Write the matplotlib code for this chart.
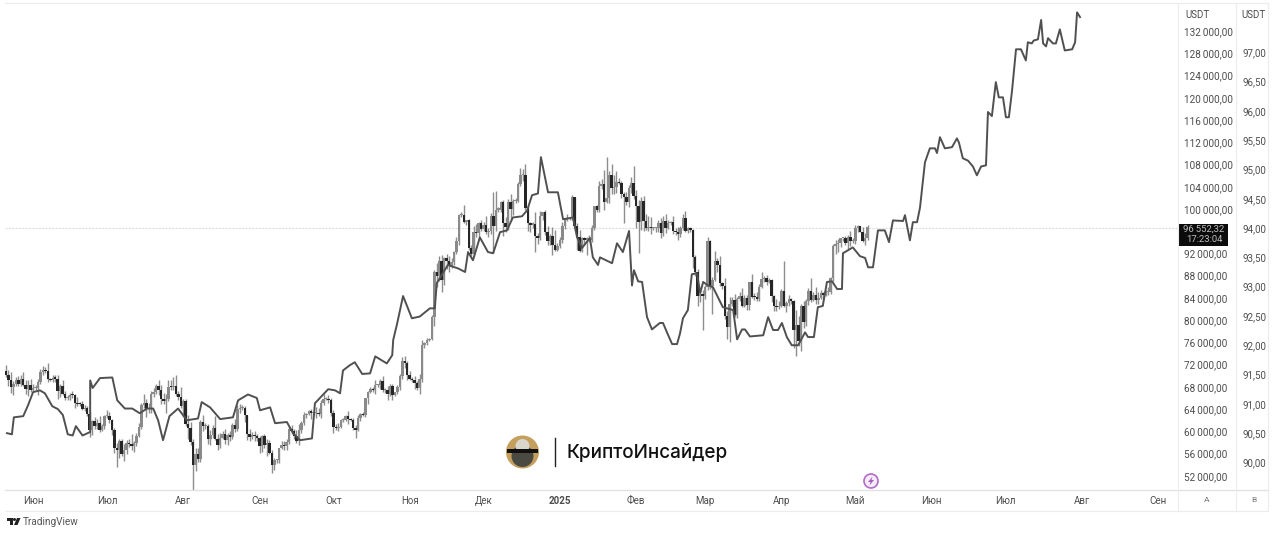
"""
plot.py - TradingView style chart: BTC daily candles plus an overlay line on its own scale.
"""

import matplotlib
matplotlib.use("Agg")
import matplotlib.pyplot as plt
from matplotlib.patches import Circle, Polygon, Rectangle

# BTC closes in thousands USDT, one per day, first one is 21 May 2024 (day -11)
closes = [
    70.1, 69.2, 67.9, 68.5, 69.3, 68.5, 69.4, 68.4, 67.6, 68.4, 67.5,
    67.8, 67.8, 68.8, 70.6, 71.1, 70.8, 69.4, 69.3, 69.6, 69.5,
    67.3, 68.2, 66.8, 66.0, 66.2, 66.6, 66.5, 65.2, 65.0, 64.9,
    64.1, 64.3, 63.2, 60.3, 61.8, 60.9, 61.6, 60.3, 60.9, 62.7,
    62.8, 62.0, 60.2, 57.0, 56.7, 58.2, 55.9, 56.7, 58.0, 57.7,
    57.3, 57.9, 59.2, 60.8, 64.7, 65.1, 64.1, 64.0, 66.7, 67.1,
    68.2, 67.5, 65.9, 65.4, 65.8, 68.0, 67.9, 68.2, 66.8, 66.2, 64.6,
    65.4, 61.4, 60.7, 58.1, 53.9, 56.0, 55.0, 61.7, 60.9, 60.9,
    58.7, 59.3, 60.6, 58.7, 57.5, 58.9, 59.5, 58.5, 59.4, 59.0,
    61.2, 60.4, 64.1, 64.2, 64.2, 62.9, 59.5, 59.0, 59.4, 59.1, 58.9,
    57.3, 59.1, 57.5, 58.0, 56.2, 54.0, 54.9, 54.9, 57.0, 57.6,
    57.3, 58.1, 60.5, 60.0, 59.2, 58.2, 60.3, 61.6, 62.9, 63.2,
    63.6, 63.3, 63.3, 63.3, 63.1, 65.2, 65.8, 65.9, 65.6, 63.3,
    60.8, 60.6, 60.8, 62.1, 62.1, 62.8, 62.2, 62.1, 60.6, 60.3,
    62.4, 63.2, 62.9, 66.0, 67.0, 67.6, 67.4, 68.4, 68.4, 69.0,
    67.4, 67.4, 66.7, 68.2, 66.6, 67.0, 68.0, 69.9, 72.7, 72.3, 70.2,
    69.5, 69.3, 68.7, 67.8, 69.4, 75.6, 75.9, 76.5, 76.7, 80.5,
    88.7, 88.0, 90.6, 87.3, 91.1, 90.6, 89.8, 90.5, 92.3, 94.3,
    98.9, 98.9, 97.7, 98.0, 93.0, 91.9, 95.9, 95.6, 97.5, 96.4,
    97.2, 95.9, 96.0, 98.8, 97.0, 99.9, 99.9, 101.2, 97.4, 96.7,
    101.2, 100.0, 101.4, 101.4, 104.5, 106.1, 106.1, 100.2, 97.5, 97.2,
    97.3, 95.1, 94.7, 98.7, 99.4, 95.8, 94.2, 95.2, 93.5, 92.6, 93.4,
    94.4, 96.9, 98.1, 98.2, 98.3, 102.1, 96.9, 95.0, 92.5, 94.7,
    94.5, 94.5, 94.5, 96.5, 100.5, 99.8, 104.1, 104.4, 101.2, 102.0,
    106.1, 103.7, 103.9, 104.8, 104.7, 102.6, 102.1, 101.3, 103.7, 104.7, 102.4,
    100.6, 97.7, 101.4, 97.9, 96.6, 96.6, 96.5, 96.5, 96.5, 97.4,
    95.7, 97.9, 96.6, 97.5, 97.6, 96.1, 95.8, 95.5, 96.6, 98.3,
    96.1, 96.6, 96.3, 91.4, 88.7, 84.3, 84.7, 84.4,
    86.0, 94.3, 86.1, 87.2, 90.6, 90.0, 86.7, 86.2, 80.7, 78.8,
    82.9, 83.7, 81.0, 83.9, 84.3, 82.6, 84.0, 82.7, 86.8, 84.2,
    84.1, 83.8, 86.0, 87.4, 87.5, 86.9, 87.2, 84.4, 82.6, 82.4, 82.5,
    85.2, 82.5, 83.1, 83.9, 83.5, 78.2, 79.2, 76.3, 82.6, 79.6,
    83.4, 85.3, 83.7, 84.5, 83.6, 84.0, 84.9, 84.5, 85.1, 85.1,
    87.5, 93.4, 93.7, 93.9, 94.7, 94.7, 93.8, 95.0, 94.2, 94.2,
    96.5, 96.9, 95.9, 94.3, 94.7, 96.8,
]

# wick lengths above / below the candle body, same order as closes
wick_up = [
    1.0, 0.9, 1.5, 0.6, 0.5, 0.7, 0.8, 1.2, 0.9, 0.8, 1.0,
    0.8, 0.5, 0.6, 0.6, 0.7, 0.5, 1.5, 0.2, 0.5, 0.6,
    0.6, 0.4, 1.0, 0.5, 0.3, 0.3, 0.6, 0.3, 1.0, 0.3,
    0.5, 0.4, 0.3, 0.4, 0.3, 0.8, 0.6, 1.2, 0.4, 0.3,
    1.0, 0.7, 0.3, 0.4, 1.0, 0.4, 0.5, 1.0, 0.5, 0.7,
    1.8, 0.4, 0.5, 0.7, 0.4, 1.6, 0.8, 1.0, 0.5, 0.7,
    0.4, 1.0, 0.8, 1.0, 1.0, 1.2, 1.3, 1.6, 2.0, 0.4, 1.8,
    0.4, 0.5, 1.5, 1.0, 0.5, 1.0, 1.0, 0.4, 1.2, 0.6,
    0.5, 0.9, 0.6, 2.1, 0.8, 0.9, 0.5, 1.0, 0.4, 0.6,
    0.3, 1.0, 0.6, 0.7, 0.6, 0.4, 0.1, 1.0, 0.5, 0.6, 0.5,
    0.2, 0.2, 0.5, 0.6, 0.5, 0.4, 0.4, 0.2, 0.1, 0.6,
    0.7, 0.6, 0.3, 0.6, 0.5, 1.0, 1.1, 0.3, 0.6, 0.2,
    0.3, 0.5, 0.2, 1.1, 1.0, 0.5, 1.0, 0.3, 0.6, 0.4,
    0.6, 0.6, 0.7, 0.1, 0.3, 0.2, 0.9, 0.2, 0.4, 0.6,
    0.5, 0.1, 0.3, 0.1, 0.3, 0.4, 0.3, 0.8, 0.2, 0.4,
    1.0, 0.4, 0.7, 0.3, 0.4, 0.1, 0.3, 0.4, 0.7, 0.8, 0.3,
    0.6, 0.3, 0.7, 0.3, 1.0, 0.9, 0.1, 0.3, 0.1, 0.5,
    0.3, 1.5, 0.9, 1.1, 0.3, 0.8, 1.0, 0.6, 0.2, 0.7,
    0.2, 0.5, 1.8, 0.1, 0.2, 0.6, 1.0, 1.4, 0.2, 0.5,
    0.5, 1.5, 0.5, 0.5, 4.3, 3.4, 0.5, 0.2, 0.4, 1.1,
    0.6, 1.4, 0.4, 0.6, 0.4, 1.3, 1.0, 2.0, 0.6, 0.1,
    0.4, 2.2, 0.5, 0.9, 0.1, 0.5, 1.1, 0.3, 1.6, 2.7, 0.4,
    0.5, 0.7, 0.2, 0.9, 0.3, 0.4, 0.1, 0.5, 1.3, 0.3,
    0.2, 0.5, 0.8, 0.6, 0.1, 0.3, 1.0, 0.9, 2.6, 7.3,
    0.7, 2.0, 2.2, 2.1, 0.8, 0.3, 0.4, 1.0, 0.6, 1.1, 3.0,
    1.0, 1.0, 0.8, 1.0, 1.2, 2.1, 2.0, 0.2, 0.3, 0.6,
    1.0, 0.8, 1.2, 0.6, 0.3, 1.2, 0.4, 0.9, 0.3, 0.8,
    1.3, 0.1, 0.1, 0.1, 0.3, 0.5, 0.6, 0.7,
    0.4, 0.7, 0.1, 0.5, 1.8, 0.5, 1.5, 0.2, 1.4, 1.0,
    1.3, 0.5, 1.0, 0.3, 0.8, 1.4, 0.6, 0.5, 0.1, 1.5,
    0.6, 1.0, 0.5, 1.2, 0.5, 0.7, 0.4, 0.2, 0.1, 1.2, 1.0,
    0.4, 5.5, 0.3, 0.7, 0.1, 0.1, 2.6, 1.5, 0.4, 0.9,
    0.4, 0.5, 2.2, 0.6, 1.5, 1.0, 0.5, 0.1, 0.4, 0.8,
    0.2, 0.3, 0.7, 0.7, 0.1, 0.1, 0.5, 0.3, 1.0, 0.6,
    0.6, 0.3, 0.1, 0.8, 1.0, 0.4,
]
wick_dn = [
    0.4, 1.0, 1.0, 1.4, 0.3, 0.3, 0.3, 0.3, 0.8, 1.2, 0.5,
    0.2, 0.4, 1.2, 0.2, 0.5, 0.3, 0.5, 0.2, 0.5, 0.7,
    1.4, 1.1, 0.3, 0.3, 0.4, 0.6, 0.4, 0.9, 0.4, 0.4,
    0.3, 0.5, 0.4, 1.3, 1.0, 0.4, 0.5, 0.4, 0.3, 0.5,
    0.3, 0.5, 0.9, 0.9, 3.1, 1.5, 0.3, 1.2, 0.8, 0.5,
    0.7, 1.0, 0.5, 0.2, 0.3, 0.4, 1.5, 0.7, 0.6, 0.5,
    0.3, 1.0, 0.9, 0.5, 2.0, 0.4, 0.4, 0.5, 0.4, 0.5, 0.3,
    2.0, 0.4, 2.0, 0.5, 4.9, 1.0, 0.5, 0.5, 0.8, 0.5,
    1.0, 1.2, 0.5, 0.3, 0.8, 0.5, 0.2, 0.7, 1.0, 0.8,
    0.3, 0.5, 0.3, 0.8, 0.3, 1.2, 1.1, 0.8, 0.3, 0.8, 0.7,
    1.1, 1.0, 0.5, 2.0, 0.2, 1.4, 0.9, 0.5, 0.6, 0.2,
    0.7, 0.6, 0.3, 0.4, 0.5, 0.2, 0.7, 0.5, 0.5, 0.4,
    0.2, 1.0, 0.4, 0.9, 0.4, 0.6, 0.4, 0.2, 0.5, 0.5,
    1.0, 0.3, 0.6, 0.2, 0.4, 0.2, 0.8, 0.3, 0.3, 1.5,
    0.2, 0.6, 0.2, 0.3, 1.1, 0.1, 0.4, 0.6, 0.4, 0.7,
    0.4, 0.5, 1.0, 0.4, 0.9, 0.3, 0.3, 0.6, 0.4, 0.9, 1.0,
    0.3, 0.5, 1.0, 0.4, 1.0, 0.5, 0.6, 0.3, 0.2, 0.3,
    1.6, 2.0, 1.0, 2.2, 0.9, 1.4, 1.2, 0.4, 0.6, 0.4,
    0.8, 0.4, 0.3, 0.6, 0.3, 0.5, 0.2, 0.6, 1.1, 0.4,
    0.3, 0.4, 1.0, 0.5, 5.0, 1.0, 0.5, 0.5, 2.3, 0.8,
    0.5, 2.0, 1.0, 0.3, 0.1, 0.4, 1.0, 0.3, 1.5, 1.3,
    0.7, 2.9, 1.0, 0.3, 0.7, 0.5, 0.6, 0.7, 1.8, 0.2, 0.2,
    0.4, 0.5, 0.5, 0.3, 0.1, 0.2, 0.5, 2.3, 0.3, 0.3,
    1.0, 2.8, 0.5, 0.4, 0.2, 0.4, 0.3, 0.5, 1.4, 0.2,
    1.0, 1.0, 1.0, 1.0, 0.3, 0.6, 4.7, 0.5, 1.0, 0.9, 0.6,
    4.0, 5.7, 1.5, 1.9, 0.3, 0.6, 1.0, 0.3, 0.7, 0.7,
    1.0, 0.5, 0.9, 0.2, 0.3, 0.6, 0.4, 1.0, 0.6, 0.4,
    0.2, 0.5, 0.5, 2.1, 0.7, 1.7, 1.0, 6.2,
    0.6, 0.5, 0.5, 5.0, 0.2, 1.3, 0.5, 0.6, 0.4, 2.2,
    2.7, 0.4, 0.4, 0.6, 0.5, 0.2, 0.3, 0.8, 0.9, 0.2,
    0.4, 0.3, 0.3, 0.3, 0.5, 0.6, 0.3, 1.1, 0.9, 0.7, 0.4,
    0.2, 0.1, 1.0, 0.6, 0.5, 3.2, 4.7, 1.0, 1.8, 1.0,
    0.7, 0.6, 0.4, 0.2, 0.6, 0.7, 0.1, 0.8, 0.2, 0.6,
    0.4, 0.4, 1.5, 1.4, 0.7, 0.4, 0.3, 1.0, 0.8, 0.3,
    0.5, 0.6, 0.1, 0.2, 0.8, 0.3,
]

# overlay line, right hand scale: day offset from 1 Jun 2024, value
line_days = [
    -10.6, -8.6, -7.8, -4, -2, 0, 2.8, 4.8, 7.8, 10.1, 12.1, 14.1, 16.1, 17.4, 20.1, 23.2, 23.2, 24.2, 27.2, 32.2,
    34.2, 37.3, 40.3, 43.3, 46.3, 48.8, 50.8, 52.8, 55.4, 58.9, 62.5, 67, 68.5, 71.9, 76, 81.2, 83.3, 87.3, 90.9, 92.2,
    96.3, 98.3, 103.1, 105.6, 108.5, 113.3, 114.5, 119.9, 122.7, 124.7, 125.9, 128.7, 130.7, 133.7, 136.9, 139, 143.7, 145.9, 146.3, 147.9,
    150.3, 153.9, 157.1, 161.2, 163.2, 164, 168.5, 172.7, 175.5, 176.7, 178.7, 181.5, 184.8, 186.9, 189.7, 192.5, 194.9, 198.6, 200.7, 202.7,
    205.1, 206.3, 209.2, 213.2, 215.3, 219.3, 221, 223, 226.2, 227.4, 229.5, 230.3, 235.2, 237.2, 239.6, 242.1, 243.3, 244.1, 245.8, 247.4,
    249.4, 251.4, 254.6, 255.9, 257.5, 259.6, 261.6, 262.8, 264, 266, 267.6, 269.7, 271, 272.2, 274.2, 276.2, 280.2, 284.4, 286, 288,
    289.2, 291.2, 296.6, 298.6, 300.6, 302.6, 304.2, 306.2, 308.2, 310.8, 313.6, 314.8, 317.2, 318.8, 320.8, 322.5, 324.6, 326.6, 328.6, 329,
    333, 335.9, 338, 339.2, 341.2, 343.2, 346, 347.7, 349.3, 353.4, 354.2, 356.2, 357.4, 359.1, 360.3, 362.3, 364.3, 366.4, 367.2, 368.4,
    370.4, 373.3, 375.3, 376.1, 377.7, 379.8, 381.8, 383.4, 385.1, 387.1, 387.9, 389.5, 391.1, 392.3, 394, 395.2, 396.4, 397.7, 399.3, 401.3,
    403.3, 404.1, 405.7, 406.5, 408.2, 409.5, 410.3, 411.5, 412.3, 414.3, 415.5, 417.1, 419.1, 422.1, 423.3, 424.1, 425.3,
]
line_vals = [
    90.50, 90.48, 90.77, 90.79, 90.98, 91.20, 91.23, 91.18, 90.96, 90.91, 90.81, 90.48, 90.46, 90.62, 90.46, 90.52, 91.40, 91.27, 91.44, 91.45,
    91.06, 90.92, 90.92, 90.84, 90.92, 90.92, 90.72, 90.38, 90.79, 90.92, 90.72, 90.75, 91.03, 90.94, 90.74, 90.77, 91.06, 91.16, 91.10, 90.89,
    90.94, 90.67, 90.69, 90.50, 90.38, 90.41, 91.01, 91.25, 91.23, 91.18, 91.57, 91.66, 91.71, 91.51, 91.52, 91.81, 91.69, 91.83, 92.09, 92.37,
    92.84, 92.46, 92.49, 92.63, 92.63, 93.06, 93.37, 93.31, 93.25, 93.59, 93.45, 93.84, 93.59, 93.57, 93.93, 93.96, 94.18, 94.20, 94.30, 94.56,
    94.59, 95.21, 94.61, 94.61, 94.15, 94.18, 93.84, 93.66, 93.83, 93.50, 93.37, 93.50, 93.40, 93.74, 93.59, 93.95, 93.02, 93.28, 93.09, 93.08,
    92.48, 92.27, 92.38, 92.38, 92.22, 92.02, 92.02, 92.20, 92.46, 92.60, 93.21, 93.23, 92.89, 93.08, 93.02, 92.99, 92.65, 92.60, 92.10, 92.27,
    92.27, 92.15, 92.17, 92.48, 92.26, 92.26, 92.38, 92.14, 92.00, 92.00, 92.22, 92.14, 92.14, 92.65, 92.67, 93.08, 93.09, 92.96, 92.96, 93.57,
    93.67, 93.52, 93.49, 93.33, 93.33, 93.96, 93.96, 93.76, 94.13, 94.12, 94.22, 93.79, 94.10, 94.10, 94.35, 95.12, 95.36, 95.36, 95.28, 95.55,
    95.36, 95.38, 95.53, 95.46, 95.19, 95.15, 95.05, 94.90, 95.05, 95.07, 95.98, 95.91, 96.49, 96.23, 96.23, 95.89, 95.89, 96.35, 97.05, 97.05,
    96.86, 97.17, 97.15, 97.20, 97.22, 97.55, 97.15, 97.10, 97.24, 97.15, 97.15, 97.39, 97.03, 97.05, 97.17, 97.68, 97.60,
]

month_days = [0, 30, 61, 92, 122, 153, 183, 214, 245, 273, 304, 334, 365, 395, 426, 457]
month_labels = ["Июн", "Июл", "Авг", "Сен", "Окт", "Ноя", "Дек", "2025", "Фев", "Мар", "Апр", "Май", "Июн", "Июл", "Авг", "Сен"]
price_ticks = [52, 56, 60, 64, 68, 72, 76, 80, 84, 88, 92, 100, 104, 108, 112, 116, 120, 124, 128, 132]
line_ticks = [90, 90.5, 91, 91.5, 92, 92.5, 93, 93.5, 94, 94.5, 95, 95.5, 96, 96.5, 97]
last_price = 96.552

W, H = 1279, 533
LINE_COL = "#505050"
UP_COL = "#8a8a8a"
DOWN_COL = "#262626"
WICK_COL = "#8d8d8d"
TXT_COL = "#4d4d4d"
GRID_COL = "#ececec"

plt.rcParams["font.family"] = ["Roboto", "DejaVu Sans"]
fig = plt.figure(figsize=(W / 100, H / 100), dpi=100)
ax = fig.add_axes([5 / W, 1 - 490 / H, 1173 / W, 487 / H])
ax2 = ax.twinx()
ax.set_xlim(-11.4, 465.1)
ax.set_ylim(49.47, 137.03)
ax2.set_ylim(89.53, 97.84)

# candles, open is the close of the day before
prev = 70.9
for i, (c, up, dn) in enumerate(zip(closes, wick_up, wick_dn)):
    day = i - 11
    top, bot = max(prev, c), min(prev, c)
    col = UP_COL if c >= prev else DOWN_COL
    ax.vlines(day, bot - dn, top + up, color=WICK_COL, lw=1.0, zorder=2)
    ax.bar(day, max(top - bot, 0.2), bottom=bot, width=1.0, color=col, lw=0, zorder=3)
    prev = c

ax.axhline(last_price, color="#dddddd", lw=0.8, ls=(0, (2, 1)), zorder=1)
ax2.plot(line_days, line_vals, color=LINE_COL, lw=1.4, solid_joinstyle="round", zorder=4)
ax2.set_zorder(ax.get_zorder() + 1)

for a in (ax, ax2):
    for s in a.spines.values():
        s.set_visible(False)

ax.set_xticks(month_days)
ax.set_xticklabels(month_labels, fontsize=7, color=TXT_COL)
ax.get_xticklabels()[7].set_fontweight("bold")
ax.tick_params(axis="x", length=0, pad=4)

ax.yaxis.tick_right()
ax.set_yticks(price_ticks)
ax.set_yticklabels([f"{p}\u2009000,00" for p in price_ticks], fontsize=7.2, color=TXT_COL)
ax.tick_params(axis="y", length=0, pad=4.5)

ax2.set_yticks(line_ticks)
ax2.set_yticklabels([f"{v:.2f}".replace(".", ",") for v in line_ticks], fontsize=7, color=TXT_COL)
ax2.tick_params(axis="y", length=0, pad=46.5)

# overlay in pixel coordinates for the panel frame, logo and badges
ov = fig.add_axes([0, 0, 1, 1], zorder=10)
ov.set_xlim(0, W)
ov.set_ylim(H, 0)
ov.axis("off")
ov.patch.set_alpha(0)

ov.plot([5, 1268], [3, 3], color=GRID_COL, lw=0.8)
ov.plot([5, 1268], [490, 490], color="#e2e2e2", lw=1)
ov.plot([5, 1268], [511, 511], color=GRID_COL, lw=0.8)
for px in (1178, 1236, 1268):
    ov.plot([px, px], [3, 511], color=GRID_COL, lw=0.8)

ov.text(1197, 15, "USDT", fontsize=7, color=TXT_COL, ha="center", va="center")
ov.text(1254, 15, "USDT", fontsize=7, color=TXT_COL, ha="center", va="center")
ov.text(1207, 500, "A", fontsize=6, color="#777777", ha="center", va="center")
ov.text(1254, 500, "B", fontsize=6, color="#777777", ha="center", va="center")

# last price tag
ov.add_patch(Rectangle((1179, 224), 49, 22, color="#0b0b0b", lw=0))
ov.text(1204, 229.5, "96\u2009552,32", fontsize=6.8, color="#bdbdbd", ha="center", va="center")
ov.text(1204, 239.5, "17:23:04", fontsize=6.8, color="#bdbdbd", ha="center", va="center")

# watermark
ov.add_patch(Circle((522.5, 452), 16.5, color="#c59f5e", lw=0))
ov.add_patch(Circle((522.5, 456), 11, color="#4b4a42", lw=0))
ov.add_patch(Circle((522.5, 446), 7, color="#d9d6cb", lw=0))
ov.add_patch(Rectangle((507, 449), 31, 4, color="#111111", lw=0))
ov.plot([554.5, 554.5], [438, 466], color="#222222", lw=1)
ov.text(566, 452, "КриптоИнсайдер", fontsize=13.6, family="Inter", fontweight="medium",
        color="#111111", ha="left", va="center")

# lightning badge
ov.add_patch(Circle((871, 481), 7, facecolor="#f6ecf9", edgecolor="#b06cc8", lw=1.2))
ov.add_patch(Polygon([(872.5, 476.5), (868, 482), (870.6, 482), (869.5, 485.5), (874, 480), (871.4, 480)],
                     color="#a85cc0", lw=0))

# TradingView mark
ov.add_patch(Polygon([(7, 518), (13, 518), (13, 525), (10, 525), (10, 521), (7, 521)], color="#222222", lw=0))
ov.add_patch(Circle((14.5, 519.5), 1.5, color="#222222", lw=0))
ov.add_patch(Polygon([(17, 518), (20.5, 518), (17.5, 525), (14, 525)], color="#222222", lw=0))
ov.text(22.5, 522, "TradingView", fontsize=7.2, color="#555555", ha="left", va="center")

fig.savefig("out.png", dpi=100)
plt.close(fig)
